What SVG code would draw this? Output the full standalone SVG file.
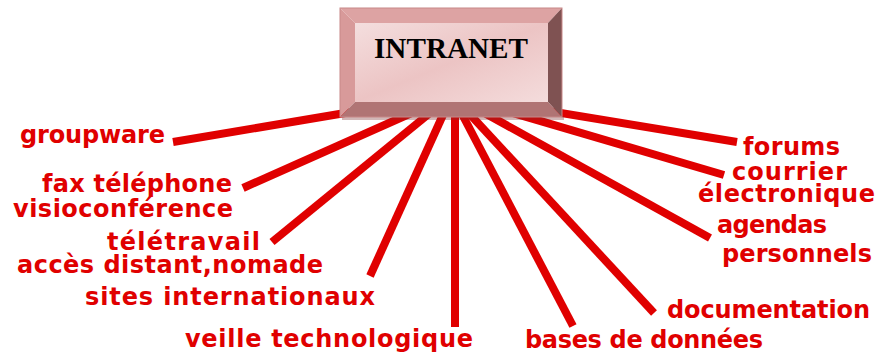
<svg xmlns="http://www.w3.org/2000/svg" width="878" height="354" viewBox="0 0 878 354">
<defs>
<style>
.ln{stroke:#e00000;stroke-width:8;fill:none;stroke-linecap:butt}
.lb{font-family:"DejaVu Sans",sans-serif;font-weight:bold;font-size:24px;fill:#e00000}
.ti{font-family:"Liberation Serif",serif;font-weight:bold;font-size:29px;fill:#000}
</style>
<linearGradient id="face" x1="0" y1="0" x2="1" y2="1">
<stop offset="0" stop-color="#f4dede"/>
<stop offset="0.5" stop-color="#ecc4c4"/>
<stop offset="1" stop-color="#f4dcdc"/>
</linearGradient>
</defs>
<rect width="878" height="354" fill="#fff"/>
<g id="connectors">
<line class="ln" x1="452" y1="95" x2="173" y2="142"/>
<line class="ln" x1="452" y1="95" x2="243" y2="188"/>
<line class="ln" x1="452" y1="95" x2="272" y2="242"/>
<line class="ln" x1="452" y1="95" x2="370" y2="276"/>
<line class="ln" x1="455" y1="95" x2="455" y2="327"/>
<line class="ln" x1="452" y1="95" x2="573" y2="326"/>
<line class="ln" x1="452" y1="95" x2="654" y2="313"/>
<line class="ln" x1="452" y1="95" x2="710" y2="238"/>
<line class="ln" x1="452" y1="95" x2="724" y2="175"/>
<line class="ln" x1="452" y1="95" x2="737" y2="142"/>
</g>
<g id="intranet">
<rect x="342" y="116" width="222" height="4" fill="#7a3030" opacity="0.35"/>
<rect x="355" y="23" width="193" height="79" fill="url(#face)"/>
<polygon points="340,8 562,8 548,23 355,23" fill="#dda3a3"/>
<polygon points="340,8 355,23 355,102 340,117" fill="#d89a9a"/>
<polygon points="562,8 562,117 548,102 548,23" fill="#7f5252"/>
<polygon points="340,117 355,102 548,102 562,117" fill="#b07474"/>
<rect x="340" y="8" width="222" height="109" fill="none" stroke="#c88888" stroke-width="1"/>
<text class="ti" x="451" y="58" text-anchor="middle" textLength="154" lengthAdjust="spacingAndGlyphs">INTRANET</text>
</g>
<g id="groupware"><text class="lb" x="20" y="143" textLength="145">groupware</text></g>
<g id="fax"><text class="lb" x="42" y="192" textLength="190">fax téléphone</text><text class="lb" x="13" y="217" textLength="220">visioconférence</text></g>
<g id="teletravail"><text class="lb" x="107" y="250" textLength="153">télétravail</text><text class="lb" x="17" y="273" textLength="306">accès distant,nomade</text></g>
<g id="sites"><text class="lb" x="85" y="305" textLength="290">sites internationaux</text></g>
<g id="veille"><text class="lb" x="185" y="347" textLength="288">veille technologique</text></g>
<g id="bases"><text class="lb" x="525" y="348" textLength="238">bases de données</text></g>
<g id="documentation"><text class="lb" x="667" y="318" textLength="203">documentation</text></g>
<g id="agendas"><text class="lb" x="717" y="233" textLength="110">agendas</text><text class="lb" x="722" y="262" textLength="150">personnels</text></g>
<g id="courrier"><text class="lb" x="732" y="180" textLength="115">courrier</text><text class="lb" x="698" y="202" textLength="177">électronique</text></g>
<g id="forums"><text class="lb" x="743" y="155" textLength="97">forums</text></g>
</svg>
